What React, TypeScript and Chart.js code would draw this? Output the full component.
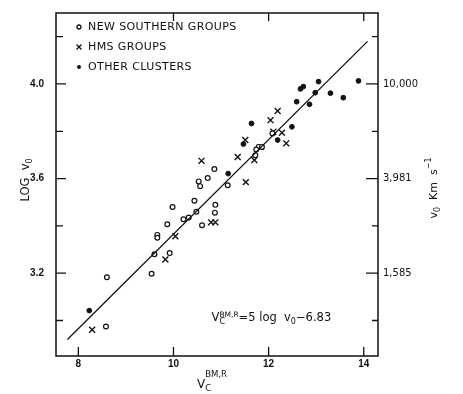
import React, { useEffect, useRef } from 'react';
import { Chart, registerables } from 'chart.js';

Chart.register(...registerables);

// ---- data ----
const newSouthernV = [12.08, 11.79, 11.86, 11.74, 11.72, 10.86, 10.72, 10.53, 10.56, 11.14, 10.44, 9.98, 10.88, 10.48, 10.87, 10.21, 10.32, 10.6, 9.87, 9.66, 9.66, 9.6, 9.92, 9.54, 8.6, 8.58];
const newSouthernLogV = [3.791, 3.734, 3.734, 3.723, 3.699, 3.64, 3.602, 3.588, 3.568, 3.572, 3.506, 3.48, 3.489, 3.46, 3.456, 3.428, 3.435, 3.403, 3.407, 3.362, 3.35, 3.28, 3.285, 3.198, 3.183, 2.975];

const hmsV = [12.19, 12.04, 12.1, 12.28, 12.37, 11.51, 11.83, 11.7, 11.35, 10.59, 11.52, 10.79, 10.88, 10.04, 9.83, 8.29];
const hmsLogV = [3.886, 3.847, 3.798, 3.794, 3.749, 3.763, 3.733, 3.678, 3.691, 3.675, 3.585, 3.415, 3.415, 3.356, 3.258, 2.961];

const otherV = [13.89, 13.05, 13.3, 13.57, 12.98, 12.67, 12.73, 12.59, 12.86, 12.49, 12.19, 11.64, 11.47, 11.15, 8.23];
const otherLogV = [4.013, 4.01, 3.961, 3.942, 3.963, 3.979, 3.989, 3.925, 3.914, 3.819, 3.763, 3.833, 3.746, 3.621, 3.042];

const fitV = [7.77, 14.08];
const fitLogV = [2.92, 4.18];

const xTickValues = [8, 10, 12, 14];
const xTopTickValues = [10, 12, 14];
const yMajorTicks = [3.2, 3.6, 4.0];
const yMinorTicks = [3.0, 3.4, 3.8, 4.2];
const leftTickLabels = ['3.2', '3.6', '4.0'];
const rightTickLabels = ['1,585', '3,981', '10,000'];
const legendLabels = ['NEW SOUTHERN GROUPS', 'HMS GROUPS', 'OTHER CLUSTERS'];

const FAMILY = '"DejaVu Sans", sans-serif';
const INK = '#111';

type Part = { t: string; size: number; dy: number; noAdvance?: boolean };

function drawRich(ctx: CanvasRenderingContext2D, x: number, y: number, parts: Part[]) {
  let cx = x;
  for (const p of parts) {
    ctx.font = `${p.size}px ${FAMILY}`;
    ctx.fillText(p.t, cx, y + p.dy);
    if (!p.noAdvance) cx += ctx.measureText(p.t).width;
  }
  return cx - x;
}
function richWidth(ctx: CanvasRenderingContext2D, parts: Part[]) {
  let w = 0;
  for (const p of parts) {
    ctx.font = `${p.size}px ${FAMILY}`;
    if (!p.noAdvance) w += ctx.measureText(p.t).width;
  }
  return w;
}

const decor = {
  id: 'decor',
  afterDraw(chart: any) {
    const ctx: CanvasRenderingContext2D = chart.ctx;
    const ca = chart.chartArea;
    const xs = chart.scales.x;
    const ys = chart.scales.y;
    ctx.save();
    ctx.strokeStyle = INK;
    ctx.fillStyle = INK;
    ctx.lineWidth = 1.5;
    ctx.strokeRect(ca.left, ca.top, ca.right - ca.left, ca.bottom - ca.top);

    ctx.lineWidth = 1.3;
    ctx.beginPath();
    for (const v of xTickValues) {
      const px = xs.getPixelForValue(v);
      ctx.moveTo(px, ca.bottom);
      ctx.lineTo(px, ca.bottom - 9);
    }
    for (const v of xTopTickValues) {
      const px = xs.getPixelForValue(v);
      ctx.moveTo(px, ca.top);
      ctx.lineTo(px, ca.top + 8);
    }
    for (const v of yMajorTicks) {
      const py = ys.getPixelForValue(v);
      ctx.moveTo(ca.left, py);
      ctx.lineTo(ca.left + 10, py);
      ctx.moveTo(ca.right, py);
      ctx.lineTo(ca.right - 12, py);
    }
    for (const v of yMinorTicks) {
      const py = ys.getPixelForValue(v);
      ctx.moveTo(ca.left, py);
      ctx.lineTo(ca.left + 7, py);
      ctx.moveTo(ca.right, py);
      ctx.lineTo(ca.right - 6, py);
    }
    ctx.stroke();

    // legend
    ctx.textBaseline = 'middle';
    ctx.textAlign = 'left';
    (ctx as any).letterSpacing = '0.4px';
    ctx.font = `11px ${FAMILY}`;
    for (let i = 0; i < legendLabels.length; i++) {
      const ly = ca.top + 14 + i * 20;
      const sx = ca.left + 23;
      ctx.lineWidth = 1.3;
      if (i === 0) {
        ctx.beginPath();
        ctx.arc(sx, ly, 2, 0, Math.PI * 2);
        ctx.stroke();
      } else if (i === 1) {
        ctx.beginPath();
        ctx.moveTo(sx - 2.5, ly - 2.5);
        ctx.lineTo(sx + 2.5, ly + 2.5);
        ctx.moveTo(sx + 2.5, ly - 2.5);
        ctx.lineTo(sx - 2.5, ly + 2.5);
        ctx.stroke();
      } else {
        ctx.beginPath();
        ctx.arc(sx, ly, 2, 0, Math.PI * 2);
        ctx.fill();
      }
      ctx.font = `11px ${FAMILY}`;
      ctx.fillText(legendLabels[i], ca.left + 32, ly + 0.5);
    }
    (ctx as any).letterSpacing = '0px';

    // equation
    ctx.textBaseline = 'alphabetic';
    drawRich(ctx, xs.getPixelForValue(10.8), ys.getPixelForValue(3.0), [
      { t: 'V', size: 11.5, dy: 0 },
      { t: 'C', size: 8, dy: 3.5, noAdvance: true },
      { t: 'BM,R', size: 7.5, dy: -4 },
      { t: '=5 log  v', size: 11.5, dy: 0 },
      { t: '0', size: 8, dy: 3 },
      { t: '\u22126.83', size: 11.5, dy: 0 },
    ]);

    // x axis title
    drawRich(ctx, 197, 388, [
      { t: 'V', size: 12, dy: 0 },
      { t: 'C', size: 8.5, dy: 3, noAdvance: true },
      { t: 'BM,R', size: 8.5, dy: -11 },
    ]);

    // left title
    const leftParts: Part[] = [
      { t: 'LOG  v', size: 11.5, dy: 0 },
      { t: '0', size: 8, dy: 3 },
    ];
    ctx.save();
    ctx.translate(29, 180);
    ctx.rotate(-Math.PI / 2);
    drawRich(ctx, -richWidth(ctx, leftParts) / 2, 0, leftParts);
    ctx.restore();

    // right title
    const rightParts: Part[] = [
      { t: 'v', size: 11, dy: 0 },
      { t: '0', size: 8, dy: 3 },
      { t: '  Km  s', size: 11, dy: 0 },
      { t: '\u22121', size: 8, dy: -6 },
    ];
    ctx.save();
    ctx.translate(437, 188);
    ctx.rotate(-Math.PI / 2);
    drawRich(ctx, -richWidth(ctx, rightParts) / 2, 0, rightParts);
    ctx.restore();

    ctx.restore();
  },
};

function toPoints(xs: number[], ys: number[]) {
  return xs.map((x, i) => ({ x, y: ys[i] }));
}

export default function App() {
  const ref = useRef<HTMLCanvasElement | null>(null);

  useEffect(() => {
    if (!ref.current) return;
    const chart = new Chart(ref.current, {
      type: 'scatter',
      data: {
        datasets: [
          {
            type: 'line',
            label: 'fit',
            data: toPoints(fitV, fitLogV),
            borderColor: INK,
            borderWidth: 1.3,
            pointRadius: 0,
            showLine: true,
            fill: false,
          } as any,
          {
            label: legendLabels[0],
            data: toPoints(newSouthernV, newSouthernLogV),
            pointStyle: 'circle',
            pointRadius: 2.4,
            borderColor: INK,
            backgroundColor: '#fff',
            borderWidth: 1.2,
          },
          {
            label: legendLabels[1],
            data: toPoints(hmsV, hmsLogV),
            pointStyle: 'crossRot',
            pointRadius: 4.2,
            borderColor: INK,
            borderWidth: 1.4,
          },
          {
            label: legendLabels[2],
            data: toPoints(otherV, otherLogV),
            pointStyle: 'circle',
            pointRadius: 2.4,
            borderColor: INK,
            backgroundColor: INK,
            borderWidth: 1,
          },
        ],
      },
      options: {
        responsive: false,
        devicePixelRatio: 1,
        animation: false,
        events: [],
        layout: { padding: { top: 13, left: 0, right: 0, bottom: 0 } },
        plugins: { legend: { display: false }, tooltip: { enabled: false } },
        scales: {
          x: {
            type: 'linear',
            position: 'bottom',
            min: 7.53,
            max: 14.3,
            grid: { display: false, drawTicks: false },
            border: { display: false },
            ticks: {
              autoSkip: false,
              maxRotation: 0,
              padding: 2,
              color: INK,
              font: { family: 'Liberation Sans', size: 10, weight: 'bold' },
              callback: (v: any) => String(v),
            },
            afterBuildTicks: (s: any) => {
              s.ticks = xTickValues.map((v) => ({ value: v }));
            },
            afterFit: (s: any) => {
              s.height = 38;
              s.paddingLeft = 0;
              s.paddingRight = 0;
            },
          },
          y: {
            type: 'linear',
            position: 'left',
            min: 2.85,
            max: 4.3,
            grid: { display: false, drawTicks: false },
            border: { display: false },
            ticks: {
              autoSkip: false,
              padding: 12,
              color: INK,
              font: { family: 'Liberation Sans', size: 10, weight: 'bold' },
              callback: (_v: any, i: number) => leftTickLabels[i],
            },
            afterBuildTicks: (s: any) => {
              s.ticks = yMajorTicks.map((v) => ({ value: v }));
            },
            afterFit: (s: any) => {
              s.width = 56;
              s.paddingTop = 0;
              s.paddingBottom = 0;
            },
          },
          y2: {
            type: 'linear',
            position: 'right',
            min: 2.85,
            max: 4.3,
            grid: { display: false, drawTicks: false },
            border: { display: false },
            ticks: {
              autoSkip: false,
              padding: 5,
              color: INK,
              font: { family: 'DejaVu Sans', size: 10 },
              callback: (_v: any, i: number) => rightTickLabels[i],
            },
            afterBuildTicks: (s: any) => {
              s.ticks = yMajorTicks.map((v) => ({ value: v }));
            },
            afterFit: (s: any) => {
              s.width = 85;
              s.paddingTop = 0;
              s.paddingBottom = 0;
            },
          },
        },
      } as any,
      plugins: [decor],
    });
    return () => chart.destroy();
  }, []);

  return (
    <div style={{ position: 'fixed', left: 0, top: 0, width: 463, height: 394, background: '#fff' }}>
      <canvas ref={ref} width={463} height={394} style={{ display: 'block' }} />
    </div>
  );
}
